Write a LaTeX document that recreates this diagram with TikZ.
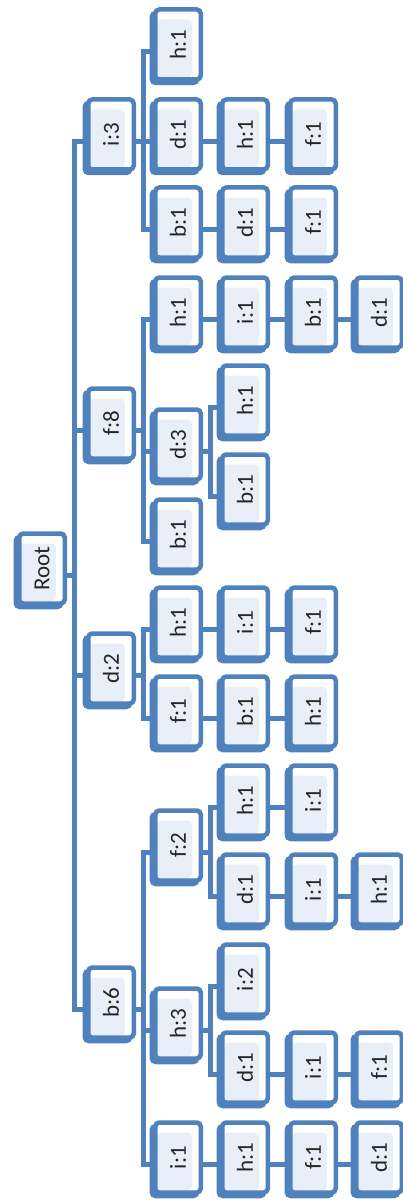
\documentclass[tikz,border=0pt]{standalone}
\usepackage{fontspec}
\setmainfont{Carlito}
\usepackage{graphicx}
\usetikzlibrary{shadows}
\definecolor{boxblue}{HTML}{4F81BD}
\definecolor{innerblue}{HTML}{E9EFF8}
\newcommand{\rt}[1]{\rotatebox{90}{#1}}
\tikzset{
  tbox/.style={draw=boxblue, line width=4.5pt, rounded corners=4pt, fill=white,
    minimum width=45.5pt, minimum height=70pt, inner sep=0pt,
    font=\fontsize{23}{27}\selectfont, text=black!85,
    drop shadow={shadow xshift=-3.5pt, shadow yshift=-3.5pt, fill=boxblue, draw=boxblue, line width=4.5pt, opacity=1},
    path picture={\fill[innerblue] ([xshift=2pt,yshift=2pt]path picture bounding box.south west) rectangle ([xshift=-9pt,yshift=-10pt]path picture bounding box.north east);}},
  conn/.style={draw=boxblue, line width=5pt}
}
\begin{document}
\begin{tikzpicture}
\useasboundingbox (0,0) rectangle (403pt,-1201pt);
% level 0
\node[tbox] (root) at (42pt,-568.5pt) {\rt{Root}};
% level 1
\node[tbox] (i3) at (111pt,-134.5pt) {\rt{i:3}};
\node[tbox] (f8) at (111pt,-423.5pt) {\rt{f:8}};
\node[tbox] (d2) at (111pt,-668.5pt) {\rt{d:2}};
\node[tbox] (b6) at (111pt,-1002.5pt) {\rt{b:6}};
% level 2
\node[tbox] (i3h) at (178pt,-44.5pt) {\rt{h:1}};
\node[tbox] (i3d) at (178pt,-134.5pt) {\rt{d:1}};
\node[tbox] (i3b) at (178pt,-222.5pt) {\rt{b:1}};
\node[tbox] (f8h) at (178pt,-312.5pt) {\rt{h:1}};
\node[tbox] (f8d) at (178pt,-444.5pt) {\rt{d:3}};
\node[tbox] (f8b) at (178pt,-534.5pt) {\rt{b:1}};
\node[tbox] (d2h) at (178pt,-622.5pt) {\rt{h:1}};
\node[tbox] (d2f) at (178pt,-711.5pt) {\rt{f:1}};
\node[tbox] (b6f) at (178pt,-845.5pt) {\rt{f:2}};
\node[tbox] (b6h) at (178pt,-1023.5pt) {\rt{h:3}};
\node[tbox] (b6i) at (178pt,-1157.5pt) {\rt{i:1}};
% level 3
\node[tbox] (i3dh) at (245pt,-134.5pt) {\rt{h:1}};
\node[tbox] (i3bd) at (245pt,-222.5pt) {\rt{d:1}};
\node[tbox] (f8hi) at (245pt,-312.5pt) {\rt{i:1}};
\node[tbox] (f8dh) at (245pt,-400.5pt) {\rt{h:1}};
\node[tbox] (f8db) at (245pt,-489.5pt) {\rt{b:1}};
\node[tbox] (d2hi) at (245pt,-622.5pt) {\rt{i:1}};
\node[tbox] (d2fb) at (245pt,-711.5pt) {\rt{b:1}};
\node[tbox] (b6fh) at (245pt,-800.5pt) {\rt{h:1}};
\node[tbox] (b6fd) at (245pt,-889.5pt) {\rt{d:1}};
\node[tbox] (b6hi) at (245pt,-979.5pt) {\rt{i:2}};
\node[tbox] (b6hd) at (245pt,-1067.5pt) {\rt{d:1}};
\node[tbox] (b6ih) at (245pt,-1157.5pt) {\rt{h:1}};
% level 4
\node[tbox] (i3dhf) at (313pt,-134.5pt) {\rt{f:1}};
\node[tbox] (i3bdf) at (313pt,-222.5pt) {\rt{f:1}};
\node[tbox] (f8hib) at (313pt,-312.5pt) {\rt{b:1}};
\node[tbox] (d2hif) at (313pt,-622.5pt) {\rt{f:1}};
\node[tbox] (d2fbh) at (313pt,-711.5pt) {\rt{h:1}};
\node[tbox] (b6fhi) at (313pt,-800.5pt) {\rt{i:1}};
\node[tbox] (b6fdi) at (313pt,-889.5pt) {\rt{i:1}};
\node[tbox] (b6hdi) at (313pt,-1067.5pt) {\rt{i:1}};
\node[tbox] (b6ihf) at (313pt,-1157.5pt) {\rt{f:1}};
% level 5
\node[tbox] (f8hibd) at (379pt,-312.5pt) {\rt{d:1}};
\node[tbox] (b6fdih) at (379pt,-889.5pt) {\rt{h:1}};
\node[tbox] (b6hdif) at (379pt,-1067.5pt) {\rt{f:1}};
\node[tbox] (b6ihfd) at (379pt,-1157.5pt) {\rt{d:1}};

% root bracket
\draw[conn] ([yshift=-7pt]i3.west) -| ([xshift=7pt,yshift=-7pt]root.east) |- ([yshift=-7pt]b6.west);
\draw[conn] ([yshift=-7pt]root.east) -- ++(7pt,0);
\draw[conn] ([yshift=-7pt]f8.west) -| ([xshift=7pt,yshift=-7pt]root.east);
\draw[conn] ([yshift=-7pt]d2.west) -| ([xshift=7pt,yshift=-7pt]root.east);
% i:3
\draw[conn] ([yshift=-7pt]i3h.west) -| ([xshift=7pt,yshift=-7pt]i3.east) |- ([yshift=-7pt]i3b.west);
\draw[conn] ([yshift=-7pt]i3.east) -- ++(7pt,0);
\draw[conn] ([yshift=-7pt]i3d.west) -| ([xshift=7pt,yshift=-7pt]i3.east);
% f:8
\draw[conn] ([yshift=-7pt]f8h.west) -| ([xshift=7pt,yshift=-7pt]f8.east) |- ([yshift=-7pt]f8b.west);
\draw[conn] ([yshift=-7pt]f8.east) -- ++(7pt,0);
\draw[conn] ([yshift=-7pt]f8d.west) -| ([xshift=7pt,yshift=-7pt]f8.east);
% d:3
\draw[conn] ([yshift=-7pt]f8dh.west) -| ([xshift=7pt,yshift=-7pt]f8d.east) |- ([yshift=-7pt]f8db.west);
\draw[conn] ([yshift=-7pt]f8d.east) -- ++(7pt,0);
% d:2
\draw[conn] ([yshift=-7pt]d2h.west) -| ([xshift=7pt,yshift=-7pt]d2.east) |- ([yshift=-7pt]d2f.west);
\draw[conn] ([yshift=-7pt]d2.east) -- ++(7pt,0);
% b:6
\draw[conn] ([yshift=-7pt]b6f.west) -| ([xshift=7pt,yshift=-7pt]b6.east) |- ([yshift=-7pt]b6i.west);
\draw[conn] ([yshift=-7pt]b6.east) -- ++(7pt,0);
\draw[conn] ([yshift=-7pt]b6h.west) -| ([xshift=7pt,yshift=-7pt]b6.east);
% f:2
\draw[conn] ([yshift=-7pt]b6fh.west) -| ([xshift=7pt,yshift=-7pt]b6f.east) |- ([yshift=-7pt]b6fd.west);
\draw[conn] ([yshift=-7pt]b6f.east) -- ++(7pt,0);
% h:3
\draw[conn] ([yshift=-7pt]b6hi.west) -| ([xshift=7pt,yshift=-7pt]b6h.east) |- ([yshift=-7pt]b6hd.west);
\draw[conn] ([yshift=-7pt]b6h.east) -- ++(7pt,0);
% chains
\foreach \a/\b in {i3d/i3dh, i3dh/i3dhf, i3b/i3bd, i3bd/i3bdf, f8h/f8hi, f8hi/f8hib, f8hib/f8hibd,
  d2h/d2hi, d2hi/d2hif, d2f/d2fb, d2fb/d2fbh, b6fh/b6fhi, b6fd/b6fdi, b6fdi/b6fdih,
  b6hd/b6hdi, b6hdi/b6hdif, b6i/b6ih, b6ih/b6ihf, b6ihf/b6ihfd}
  \draw[conn] ([yshift=-7pt]\a.east) -- ([yshift=-7pt]\b.west);
\end{tikzpicture}
\end{document}
